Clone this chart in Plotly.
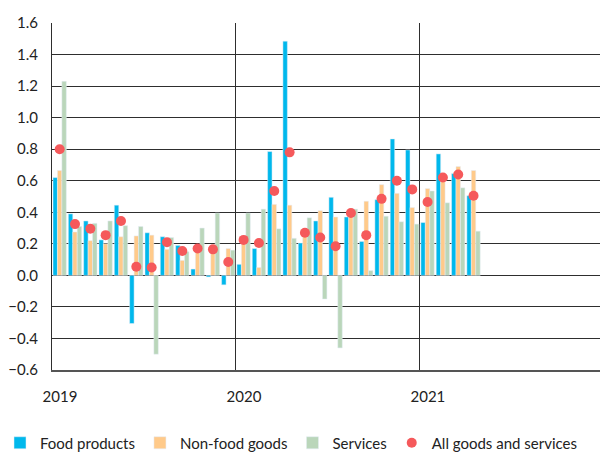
import plotly.graph_objects as go

# Monthly change, Jan 2019 - Apr 2021
months = [f"{y}-{m:02d}" for y in (2019, 2020, 2021) for m in range(1, 13)][:28]

food = [0.62, 0.39, 0.345, 0.225, 0.445, -0.305, 0.27, 0.245, 0.19, 0.04, -0.01, -0.06,
        0.07, 0.17, 0.785, 1.485, 0.205, 0.345, 0.495, 0.37, 0.215, 0.48, 0.865, 0.795,
        0.335, 0.77, 0.645, 0.505]
nonfood = [0.665, 0.275, 0.22, 0.20, 0.245, 0.25, 0.255, 0.165, 0.095, 0.16, 0.15, 0.17,
           0.21, 0.05, 0.45, 0.445, 0.26, 0.41, 0.37, 0.40, 0.47, 0.575, 0.52, 0.43,
           0.55, 0.60, 0.69, 0.665]
services = [1.23, 0.31, 0.33, 0.345, 0.315, 0.31, -0.50, 0.24, 0.15, 0.30, 0.395, 0.16,
            0.395, 0.42, 0.295, 0.235, 0.365, -0.15, -0.46, 0.42, 0.03, 0.375, 0.34, 0.325,
            0.535, 0.46, 0.555, 0.28]
all_items = [0.80, 0.325, 0.295, 0.255, 0.345, 0.055, 0.05, 0.21, 0.155, 0.17, 0.165, 0.085,
             0.225, 0.205, 0.535, 0.78, 0.27, 0.24, 0.185, 0.395, 0.255, 0.485, 0.60, 0.545,
             0.465, 0.62, 0.64, 0.505]

year_ticks = [0, 12, 24, 36]
year_labels = ["2019", "2020", "2021", "2022"]

# month i is drawn centred at i + 0.5 so year boundaries fall on whole numbers
xpos = [i + 0.5 for i in range(len(months))]

FONT = "Lato, 'Open Sans', sans-serif"
GRID = "#2e2e2e"
W, H = 600, 453
ML, MR, MT, MB = 52, 0, 23, 83
plot_w, plot_h = W - ML - MR, H - MT - MB

fig = go.Figure()
fig.add_bar(x=xpos, y=food, name="Food products", marker_color="#00B8EC",
            customdata=months, hovertemplate="%{customdata}: %{y}<extra>Food products</extra>")
fig.add_bar(x=xpos, y=nonfood, name="Non-food goods", marker_color="#FFCA8A",
            customdata=months, hovertemplate="%{customdata}: %{y}<extra>Non-food goods</extra>")
fig.add_bar(x=xpos, y=services, name="Services", marker_color="#BAD6BA",
            customdata=months, hovertemplate="%{customdata}: %{y}<extra>Services</extra>")
fig.add_scatter(x=xpos, y=all_items, name="All goods and services", mode="markers",
                marker=dict(color="#F5595B", size=10, line=dict(width=0)),
                customdata=months,
                hovertemplate="%{customdata}: %{y}<extra>All goods and services</extra>")

fig.update_layout(
    width=W, height=H,
    margin=dict(l=ML, r=MR, t=MT, b=MB, autoexpand=False),
    paper_bgcolor="white", plot_bgcolor="white",
    barmode="group", bargap=0.13, bargroupgap=0,
    font=dict(family=FONT, size=14, color="#222"),
    showlegend=True,
    # legend row sits under the x labels and may use the full page width
    legend=dict(orientation="h", x=-ML / plot_w, xanchor="left",
                y=-73 / plot_h, yanchor="middle",
                font=dict(size=15, color="#222"), itemwidth=30,
                traceorder="normal", bgcolor="rgba(0,0,0,0)"),
)
fig.update_xaxes(
    range=[0, 35.75], tickmode="array", tickvals=year_ticks, ticktext=year_labels,
    showgrid=True, gridcolor=GRID, gridwidth=1, ticks="", zeroline=False,
    showline=True, linecolor="#555", linewidth=2,
    ticklabelshift=8, ticklabelstandoff=12, tickfont=dict(size=15, color="#222"),
)
fig.update_yaxes(
    range=[-0.6, 1.6], tickmode="array", tickvals=[round(-0.6 + 0.2 * k, 1) for k in range(12)],
    tickformat=".1f", showgrid=True, gridcolor=GRID, gridwidth=1,
    zeroline=True, zerolinecolor=GRID, zerolinewidth=1,
    showline=True, linecolor=GRID, linewidth=1, ticks="", ticklabelstandoff=10,
    tickfont=dict(size=15, color="#222"),
)

fig.write_html("out.html")
